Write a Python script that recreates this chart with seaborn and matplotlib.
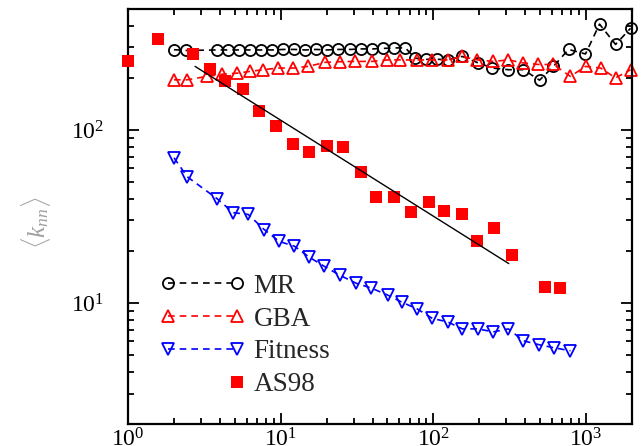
import numpy as np
import pandas as pd
import matplotlib
matplotlib.use('Agg')
import matplotlib.pyplot as plt
import seaborn as sns
from matplotlib.lines import Line2D
from matplotlib.legend_handler import HandlerLine2D
from matplotlib.ticker import NullFormatter

# ---- data ----
mr_k = [2, 2.4, 3.83, 4.53, 5.34, 6.31, 7.45, 8.8, 10.4, 12.3, 14.5, 17.1, 20.2, 23.8,
        28.6, 33.7, 39.8, 47, 55.5, 65.5, 76.2, 90, 106, 125, 155, 197, 244, 310, 389,
        496, 612, 768, 992, 1226, 1561, 1958]
mr_knn = [291, 288, 290, 290, 290, 290, 290, 290, 292, 292, 290, 292, 290, 292, 292,
          294, 294, 296, 298, 298, 260, 256, 256, 255, 266, 244, 228, 223, 223, 194,
          233, 292, 275, 409, 312, 387]

gba_k = [2, 2.44, 3.3, 4.13, 5.19, 6.31, 7.68, 9.63, 12.1, 15.1, 19.6, 24.6, 30.8, 39.8,
         49.9, 60.8, 78.5, 98.5, 124, 155, 194, 247, 310, 389, 488, 612, 791, 993, 1245,
         1560, 1958]
gba_knn = [195, 195, 204, 210, 213, 218, 223, 228, 228, 233, 246, 248, 249, 249, 254,
           254, 254, 254, 254, 266, 254, 249, 254, 244, 239, 239, 204, 233, 228, 200, 223]

fit_k = [2, 2.44, 3.83, 4.88, 6.13, 7.79, 9.78, 12.3, 15.4, 19.3, 24.3, 31.3, 39.3,
         50.4, 62.4, 78.5, 98.5, 124, 155, 196, 247, 310, 389, 494, 620, 791]
fit_knn = [69.1, 53.7, 40.1, 33.3, 32.5, 26.6, 22.7, 21.3, 18.4, 16.3, 14.5, 13.0, 12.2,
           11.1, 10.1, 9.24, 8.15, 7.78, 7.09, 7.09, 6.81, 7.09, 6.05, 5.74, 5.51, 5.30]

as_k = [1, 1.58, 2.67, 3.45, 4.35, 5.67, 7.25, 9.35, 12.1, 15.3, 20.2, 25.6, 33.5, 42.2,
        55.2, 70.9, 93, 117, 153, 194, 251, 328, 538, 678]
as_knn = [250, 334, 273, 225, 191, 173, 128, 106, 83, 75, 81, 80, 57.2, 41, 41, 33.6,
          38.4, 34, 32.8, 22.8, 27, 19, 12.3, 12.2]

line_k = [2.75, 312]
line_knn = [233, 16.9]

labels = ['MR', 'GBA', 'Fitness', 'AS98']

# ---- style ----
sns.set_style('ticks')
plt.rcParams['font.family'] = ['Liberation Serif', 'DejaVu Serif']
plt.rcParams['mathtext.fontset'] = 'custom'
plt.rcParams['mathtext.rm'] = 'Liberation Serif'
plt.rcParams['mathtext.it'] = 'Liberation Serif:italic'
plt.rcParams.update({
    'xtick.direction': 'in', 'ytick.direction': 'in',
    'xtick.top': True, 'ytick.right': True,
    'xtick.major.pad': 3, 'ytick.major.pad': 17,
    'xtick.labelsize': 17, 'ytick.labelsize': 17,
    'xtick.major.size': 8, 'ytick.major.size': 8,
    'xtick.minor.size': 4.5, 'ytick.minor.size': 4.5,
    'xtick.major.width': 1.3, 'ytick.major.width': 1.3,
    'xtick.minor.width': 1.3, 'ytick.minor.width': 1.3,
    'xtick.color': 'black', 'ytick.color': 'black',
    'xtick.labelcolor': 'black', 'ytick.labelcolor': 'black',
})

fig = plt.figure(figsize=(6.42, 4.46), dpi=100)
ax = fig.add_axes([0.1994, 0.0493, 0.785, 0.9305])
ax.set_xscale('log')
ax.set_yscale('log')

dash = (0, (4, 3))
sns.lineplot(x=mr_k, y=mr_knn, ax=ax, color='black', marker='o', markersize=8,
             markerfacecolor='none', markeredgecolor='black', markeredgewidth=1.3,
             linestyle=dash, linewidth=1.2, clip_on=False, sort=False, estimator=None,
             zorder=2)
sns.lineplot(x=gba_k, y=gba_knn, ax=ax, color='red', marker='^', markersize=8.5,
             markerfacecolor='none', markeredgecolor='red', markeredgewidth=1.3,
             linestyle=dash, linewidth=1.2, clip_on=False, sort=False, estimator=None,
             zorder=2)
sns.lineplot(x=fit_k, y=fit_knn, ax=ax, color='blue', marker='v', markersize=8.5,
             markerfacecolor='none', markeredgecolor='blue', markeredgewidth=1.3,
             linestyle=dash, linewidth=1.2, clip_on=False, sort=False, estimator=None,
             zorder=2)
sns.scatterplot(x=as_k, y=as_knn, ax=ax, marker='s', s=9 ** 2, color='red',
                linewidth=0, clip_on=False, zorder=3)
sns.lineplot(x=line_k, y=line_knn, ax=ax, color='black', linewidth=1.0,
             sort=False, estimator=None, zorder=4)

ax.set_xlim(1, 2000)
ax.set_ylim(2, 500)
ax.yaxis.set_minor_formatter(NullFormatter())
ax.xaxis.set_minor_formatter(NullFormatter())

for s in ax.spines.values():
    s.set_linewidth(1.6)
    s.set_color('black')
ax.set_xlabel('')
ax.set_ylabel('')

ax.text(-0.183, 0.484, r'$\langle k_{nn}\rangle$', transform=ax.transAxes,
        rotation=90, ha='center', va='center', color='#a0a0a0', fontsize=18)


class RightMarker(HandlerLine2D):
    def create_artists(self, *args, **kwargs):
        arts = super().create_artists(*args, **kwargs)
        for a in arts:
            a.set_markevery([1])
        return arts


h_mr = Line2D([], [], color='black', ls=dash, lw=1.2, marker='o', ms=8,
              mfc='none', mec='black', mew=1.3)
h_gba = Line2D([], [], color='red', ls=dash, lw=1.2, marker='^', ms=8.5,
               mfc='none', mec='red', mew=1.3)
h_fit = Line2D([], [], color='blue', ls=dash, lw=1.2, marker='v', ms=8.5,
               mfc='none', mec='blue', mew=1.3)
h_as = Line2D([], [], ls='none', marker='s', ms=9, mfc='red', mec='red', mew=0)

ax.legend([h_mr, h_gba, h_fit, h_as], labels, loc='upper left',
          bbox_to_anchor=(0.0635, 0.362), frameon=False, numpoints=2,
          handlelength=3.15, handletextpad=0.3, labelspacing=0.29, borderpad=0,
          borderaxespad=0, fontsize=19.5,
          handler_map={h_as: RightMarker(numpoints=2)})

fig.savefig('out.png', dpi=100)
